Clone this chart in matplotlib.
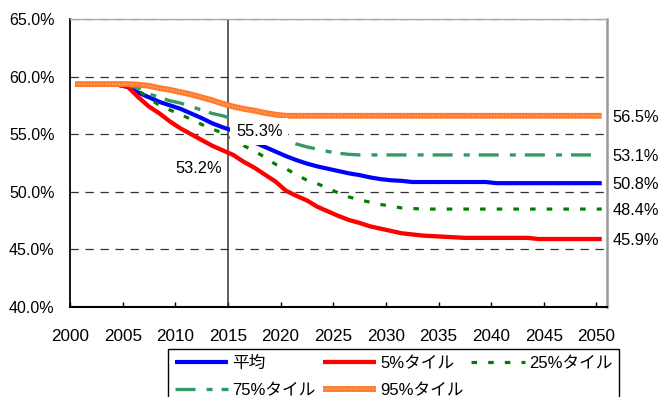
import matplotlib
matplotlib.use('Agg')
import matplotlib.pyplot as plt
from matplotlib.ticker import FuncFormatter

plt.rcParams['font.family'] = ['Liberation Sans', 'Noto Sans CJK JP']
plt.rcParams['lines.scale_dashes'] = False

# ---------------- data ----------------
years = list(range(2000, 2051))

mean = [59.3, 59.3, 59.3, 59.3, 59.3,
        59.1, 58.6, 58.2, 57.8, 57.5, 57.2, 56.8, 56.4, 55.95, 55.6,
        55.3, 54.8, 54.3, 53.9, 53.5, 53.1, 52.75, 52.45, 52.2, 52.0,
        51.8, 51.6, 51.45, 51.25, 51.1, 51.0, 50.95, 50.85,
        50.85, 50.85, 50.85, 50.85, 50.85, 50.85, 50.85,
        50.75, 50.75, 50.75, 50.75, 50.75, 50.75, 50.75, 50.75, 50.75, 50.75, 50.75]

p5 = [59.3, 59.3, 59.3, 59.3, 59.3,
      59.1, 58.2, 57.4, 56.8, 56.1, 55.5, 55.0, 54.5, 54.0, 53.6,
      53.2, 52.6, 52.1, 51.5, 50.9, 50.1, 49.65, 49.25, 48.7, 48.3,
      47.9, 47.55, 47.3, 47.0, 46.8, 46.6, 46.4, 46.3, 46.2, 46.15,
      46.1, 46.05, 46.0, 46.0, 46.0, 46.0, 46.0, 46.0, 46.0,
      45.9, 45.9, 45.9, 45.9, 45.9, 45.9, 45.9]

p25 = [59.3, 59.3, 59.3, 59.3, 59.3,
       59.2, 58.8, 58.1, 57.5, 57.1, 56.7, 56.3, 55.85, 55.45, 55.1,
       54.6, 54.0, 53.55, 53.0, 52.4, 52.0, 51.5, 51.0, 50.7, 50.3,
       49.9, 49.55, 49.3, 49.1, 48.9, 48.75, 48.6, 48.55,
       48.5, 48.5, 48.5, 48.5, 48.5, 48.5, 48.5, 48.5, 48.5,
       48.5, 48.5, 48.5, 48.5, 48.5, 48.5, 48.5, 48.5, 48.5]

p75 = [59.3, 59.3, 59.3, 59.3, 59.3,
       59.25, 59.0, 58.5, 58.2, 57.9, 57.7, 57.4, 57.1, 56.8, 56.6,
       56.3, 55.9, 55.5, 55.1, 54.75, 54.45, 54.15, 53.9, 53.7, 53.5,
       53.35, 53.25, 53.2, 53.2, 53.2, 53.2, 53.2, 53.2, 53.2, 53.2,
       53.2, 53.2, 53.2, 53.2, 53.2, 53.2, 53.2, 53.2, 53.2, 53.2,
       53.2, 53.2, 53.2, 53.2, 53.2, 53.2]

p95 = [59.35, 59.35, 59.35, 59.35, 59.35,
       59.35, 59.3, 59.2, 59.0, 58.85, 58.65, 58.45, 58.2, 57.95, 57.65,
       57.4, 57.2, 57.05, 56.85, 56.7, 56.6, 56.6, 56.6, 56.6, 56.6,
       56.6, 56.6, 56.6, 56.6, 56.6, 56.6, 56.6, 56.6, 56.6, 56.6,
       56.6, 56.6, 56.6, 56.6, 56.6, 56.6, 56.6, 56.6, 56.6, 56.6,
       56.6, 56.6, 56.6, 56.6, 56.6, 56.6]

series_labels = ['平均', '5%タイル', '25%タイル', '75%タイル', '95%タイル']
end_labels = ['50.8%', '45.9%', '48.4%', '53.1%', '56.5%']   # same order as series
label_2015_mean = '55.3%'
label_2015_p5 = '53.2%'
marker_year = 2015
y_ticks = [40, 45, 50, 55, 60, 65]
x_ticks = list(range(2000, 2051, 5))

# ---------------- figure ----------------
fig = plt.figure(figsize=(6.6, 3.97), dpi=100)
ax = fig.add_axes([70 / 660, 1 - 307 / 397, 537 / 660, 288 / 397])

x = [yr + 0.5 for yr in years]   # category centres

l_mean, = ax.plot(x, mean, color='#0000FF', lw=3.0, solid_capstyle='butt', zorder=3)
l_p5, = ax.plot(x, p5, color='#FF0000', lw=3.1, solid_capstyle='butt', zorder=3)
l_p25, = ax.plot(x, p25, color='#008000', lw=2.3, linestyle=(0, (4, 8)),
                 dash_capstyle='butt', zorder=3)
l_p75, = ax.plot(x, p75, color='#339966', lw=2.4,
                 linestyle=(0, (14.4, 8, 4.3, 6.5)), dash_capstyle='butt', zorder=3)
l_p95a, = ax.plot(x, p95, color='#FF7A2A', lw=4.2, solid_capstyle='butt', zorder=4)
l_p95b, = ax.plot(x, p95, color='#FFA566', lw=1.3, linestyle=(0, (1.1, 1.1)),
                  dash_capstyle='butt', zorder=4)

ax.axvline(marker_year, color='#333333', lw=1.1, zorder=2)

ax.set_xlim(2000, 2051)
ax.set_ylim(40, 65)
ax.set_xticks(x_ticks)
ax.set_yticks(y_ticks)
ax.yaxis.set_major_formatter(FuncFormatter(lambda v, p: f'{v:.1f}%'))
ax.tick_params(axis='x', direction='in', length=3.6, width=1, pad=15.5,
               labelsize=12.3, colors='black')
ax.tick_params(axis='y', length=0, pad=11, labelsize=11.5)

ax.yaxis.grid(True, linestyle=(0, (6, 4.8)), color='#333333', lw=0.9, zorder=1)
ax.set_axisbelow(True)

ax.spines['left'].set_color('black')
ax.spines['left'].set_linewidth(1.3)
ax.spines['bottom'].set_color('black')
ax.spines['bottom'].set_linewidth(1.5)
ax.spines['right'].set_color('#999999')
ax.spines['right'].set_linewidth(1.8)
ax.spines['top'].set_color('#aaaaaa')
ax.spines['top'].set_linewidth(1.0)

# 2015 labels
i15 = years.index(marker_year)
ax.annotate(label_2015_mean, xy=(x[i15], mean[i15]), xytext=(2, -0.5),
            textcoords='offset points', ha='left', va='center', fontsize=11.8,
            bbox=dict(fc='white', ec='none', pad=4.0), zorder=6)
ax.annotate(label_2015_p5, xy=(x[i15], p5[i15]), xytext=(-8, -9.5),
            textcoords='offset points', ha='right', va='center', fontsize=11.8,
            zorder=6)

# end labels
for vals, lab in zip([mean, p5, p25, p75, p95], end_labels):
    ax.annotate(lab, xy=(x[-1], vals[-1]), xytext=(8, -1),
                textcoords='offset points', ha='left', va='center',
                fontsize=11.8, annotation_clip=False)

# legend (column-major fill: col1 = 平均,75%; col2 = 5%,95%; col3 = 25%)
handles = [l_mean, l_p75, l_p5, (l_p95a, l_p95b), l_p25]
labs = [series_labels[0], series_labels[3], series_labels[1],
        series_labels[4], series_labels[2]]
leg = fig.legend(handles, labs, ncol=3, loc='upper left',
                 bbox_to_anchor=(168 / 660, 1 - 349 / 397),
                 bbox_transform=fig.transFigure, borderaxespad=0,
                 fontsize=12, handlelength=3.2, handletextpad=0.25,
                 columnspacing=0.45, labelspacing=0.75, borderpad=0.4,
                 fancybox=False, framealpha=1, edgecolor='black')
leg.get_frame().set_linewidth(1.0)

fig.savefig('out.png', dpi=100)
